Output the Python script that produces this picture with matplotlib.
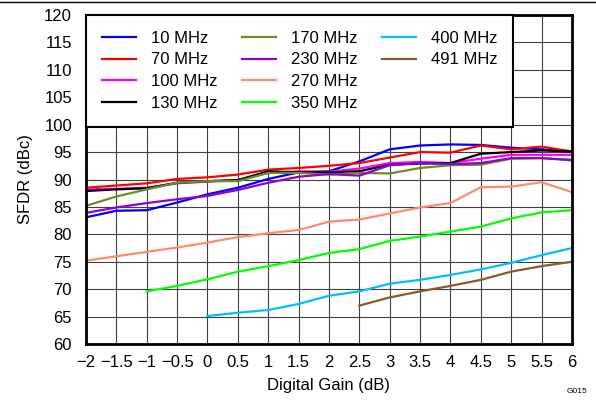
import numpy as np
from matplotlib import pyplot as plt
from matplotlib.lines import Line2D

plt.rcParams['font.family'] = ['Liberation Sans', 'DejaVu Sans']

gain = [-2, -1.5, -1, -0.5, 0, 0.5, 1, 1.5, 2, 2.5, 3, 3.5, 4, 4.5, 5, 5.5, 6]

sfdr_10 = [83.1, 84.3, 84.4, 85.8, 87.3, 88.5, 90.1, 91.3, 91.5, 93.3, 95.5, 96.2, 96.4, 96.3, 95.8, 95.5, 95.1]
sfdr_70 = [88.5, 88.9, 89.3, 90.1, 90.4, 90.9, 91.8, 92.1, 92.5, 93.0, 94.0, 95.0, 94.9, 96.2, 95.5, 96.0, 95.1]
sfdr_100 = [88.2, 88.3, 88.5, 89.3, 89.6, 89.9, 91.2, 91.5, 91.4, 92.0, 93.0, 93.2, 93.0, 93.8, 94.5, 94.5, 94.5]
sfdr_130 = [87.9, 88.2, 88.4, 89.4, 89.7, 89.9, 91.5, 91.3, 91.3, 91.5, 92.7, 92.9, 93.0, 94.7, 95.0, 95.3, 95.1]
sfdr_170 = [85.2, 86.9, 88.2, 89.4, 89.7, 89.7, 91.2, 91.2, 90.9, 91.2, 91.1, 92.1, 92.6, 92.7, 93.8, 93.9, 93.6]
sfdr_230 = [83.9, 84.9, 85.7, 86.4, 87.0, 88.1, 89.4, 90.5, 91.0, 90.7, 92.6, 93.0, 92.8, 93.0, 93.9, 93.9, 93.5]
sfdr_270 = [75.2, 76.0, 76.8, 77.6, 78.5, 79.5, 80.2, 80.8, 82.3, 82.7, 83.8, 84.9, 85.7, 88.6, 88.7, 89.5, 87.7]
gain_350 = gain[2:]
sfdr_350 = [69.6, 70.6, 71.8, 73.2, 74.2, 75.3, 76.6, 77.3, 78.8, 79.6, 80.5, 81.4, 82.9, 84.0, 84.4]
gain_400 = gain[4:]
sfdr_400 = [65.1, 65.7, 66.2, 67.3, 68.8, 69.6, 71.0, 71.7, 72.6, 73.6, 74.8, 76.2, 77.5]
gain_491 = gain[9:]
sfdr_491 = [67.0, 68.5, 69.6, 70.6, 71.7, 73.2, 74.2, 75.0]

series = [
    ('10 MHz', gain, sfdr_10, '#0000ff'),
    ('70 MHz', gain, sfdr_70, '#ff0000'),
    ('100 MHz', gain, sfdr_100, '#ff00ff'),
    ('130 MHz', gain, sfdr_130, '#000000'),
    ('170 MHz', gain, sfdr_170, '#6b8e23'),
    ('230 MHz', gain, sfdr_230, '#9400d3'),
    ('270 MHz', gain, sfdr_270, '#ff8c69'),
    ('350 MHz', gain_350, sfdr_350, '#00ff00'),
    ('400 MHz', gain_400, sfdr_400, '#00bfff'),
    ('491 MHz', gain_491, sfdr_491, '#8b5a2b'),
]

fig = plt.figure(figsize=(5.96, 4.0), dpi=100)
ax = fig.add_axes([0.1443, 0.14, 0.8154, 0.8225])

handles = []
for name, x, y, c in series:
    h, = ax.plot(x, y, color=c, lw=1.6, label=name)
    handles.append(h)

ax.set_xlim(-2, 6)
ax.set_ylim(60, 120)
xt = np.arange(-2, 6.01, 0.5)
ax.set_xticks(xt)
ax.set_xticklabels([('%g' % v).replace('-', '\u2212') for v in xt])
ax.set_yticks(np.arange(60, 121, 5))
ax.tick_params(axis='x', length=0, labelsize=12, pad=8)
ax.tick_params(axis='y', length=0, labelsize=12, pad=10)
ax.grid(True, color='#404040', lw=0.8)
ax.set_axisbelow(True)
for s in ax.spines.values():
    s.set_linewidth(2)

ax.set_xlabel('Digital Gain (dB)', fontsize=12, labelpad=6)
ax.set_ylabel('SFDR (dBc)', fontsize=12, labelpad=8)

# pad to 12 entries so the columns go 4 / 4 / 2 like the original
blank = Line2D([], [], color='none')
labels = [s[0] for s in series] + ['', '']
leg = ax.legend(handles + [blank, blank], labels, ncol=3, loc='upper left',
                bbox_to_anchor=(0, 1), borderaxespad=0,
                fontsize=12, frameon=True, fancybox=False, handlelength=2.05,
                handletextpad=0.9, columnspacing=1.45, labelspacing=0.4,
                borderpad=0.95)
leg.get_frame().set_edgecolor('black')
leg.get_frame().set_linewidth(1.5)
leg.get_frame().set_alpha(1)

fig.add_artist(Line2D([0, 1], [0.996, 0.996], color='black', lw=1,
                      transform=fig.transFigure))
fig.text(0.985, 0.012, 'G015', fontsize=6, ha='right', va='bottom')

fig.savefig('out.png', dpi=100)
